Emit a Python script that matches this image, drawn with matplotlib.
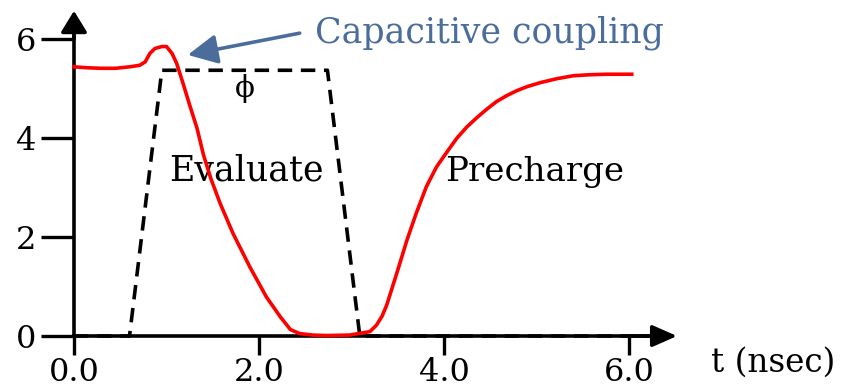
import matplotlib
matplotlib.use("Agg")
import matplotlib.pyplot as plt

# Output node voltage (red)
t_out = [0.0, 0.15, 0.3, 0.45, 0.6, 0.71, 0.77, 0.82, 0.875, 0.95, 1.0, 1.06,
         1.11, 1.18, 1.25, 1.33, 1.40, 1.48, 1.58, 1.72, 1.90, 2.08, 2.23, 2.34,
         2.44, 2.58, 2.73, 2.98, 3.2, 3.27, 3.33, 3.38, 3.49, 3.60, 3.70, 3.81,
         3.92, 4.04, 4.14, 4.25, 4.36, 4.46, 4.57, 4.68, 4.79, 4.90, 5.04, 5.22,
         5.40, 5.58, 5.76, 6.03]
v_out = [5.44, 5.42, 5.41, 5.41, 5.44, 5.47, 5.54, 5.71, 5.81, 5.85, 5.85, 5.71,
         5.51, 5.10, 4.67, 4.20, 3.66, 3.18, 2.68, 2.07, 1.40, 0.79, 0.39, 0.13,
         0.05, 0.02, 0.01, 0.02, 0.09, 0.22, 0.40, 0.62, 1.27, 1.94, 2.48, 3.02,
         3.42, 3.74, 4.00, 4.23, 4.42, 4.58, 4.74, 4.86, 4.96, 5.04, 5.12, 5.20,
         5.26, 5.28, 5.29, 5.29]

# Clock phi (dashed)
t_clk = [0.0, 0.60, 0.95, 2.74, 3.09, 6.45]
v_clk = [0.0, 0.0, 5.37, 5.37, 0.0, 0.0]

x_ticks = [0.0, 2.0, 4.0, 6.0]
x_tick_labels = ["0.0", "2.0", "4.0", "6.0"]
y_ticks = [0, 2, 4, 6]
y_tick_labels = ["0", "2", "4", "6"]

SERIF = ["DejaVu Serif"]
BLUE = "#4a6d9c"

fig = plt.figure(figsize=(8.43, 3.89), dpi=100)
ax = fig.add_axes([0, 0, 1, 1])
ax.set_xlim(-0.80, 8.314)
ax.set_ylim(-1.07, 6.79)

for s in ["top", "right"]:
    ax.spines[s].set_visible(False)
for s in ["left", "bottom"]:
    ax.spines[s].set_position(("data", 0))
    ax.spines[s].set_linewidth(2.6)
ax.spines["left"].set_bounds(0, 6.3)
ax.spines["bottom"].set_bounds(0, 6.3)

ax.set_xticks(x_ticks)
ax.set_xticklabels(x_tick_labels, fontfamily=SERIF, fontsize=23)
ax.set_yticks(y_ticks)
ax.set_yticklabels(y_tick_labels, fontfamily=SERIF, fontsize=23)
ax.tick_params(axis="y", direction="out", length=24, width=2.4, pad=3)
ax.tick_params(axis="x", direction="out", length=14, width=2.4, pad=1)

# axis arrowheads
ax.annotate("", xy=(0, 6.57), xytext=(0, 6.0),
            arrowprops=dict(arrowstyle="-|>,head_length=0.65,head_width=0.4",
                            color="black", lw=2.6, mutation_scale=20,
                            shrinkA=0, shrinkB=0))
ax.annotate("", xy=(6.52, 0), xytext=(6.0, 0),
            arrowprops=dict(arrowstyle="-|>,head_length=0.75,head_width=0.33",
                            color="black", lw=2.6, mutation_scale=20,
                            shrinkA=0, shrinkB=0))

ax.plot(t_clk, v_clk, color="black", lw=2.6, dashes=(4, 2.4), zorder=4,
        solid_capstyle="butt", clip_on=False)
ax.plot(t_out, v_out, color="#ff0000", lw=2.6, zorder=5, clip_on=False,
        solid_joinstyle="round")

ax.text(1.85, 5.0, "ϕ", fontfamily=SERIF, fontsize=21, ha="center", va="center")
ax.text(1.86, 3.35, "Evaluate", fontfamily=SERIF, fontsize=25, ha="center", va="center")
ax.text(4.98, 3.31, "Precharge", fontfamily=SERIF, fontsize=24.5, ha="center", va="center")
ax.text(7.56, -0.53, "t (nsec)", fontfamily=SERIF, fontsize=23.5, ha="center", va="center")
ax.text(4.49, 6.12, "Capacitive coupling", fontfamily=SERIF, fontsize=25,
        ha="center", va="center", color=BLUE)
ax.annotate("", xy=(1.23, 5.68), xytext=(2.44, 6.12),
            arrowprops=dict(arrowstyle="-|>,head_length=0.9,head_width=0.45",
                            color=BLUE, lw=2.6, mutation_scale=20,
                            shrinkA=0, shrinkB=0))

fig.savefig("out.png", dpi=100)
